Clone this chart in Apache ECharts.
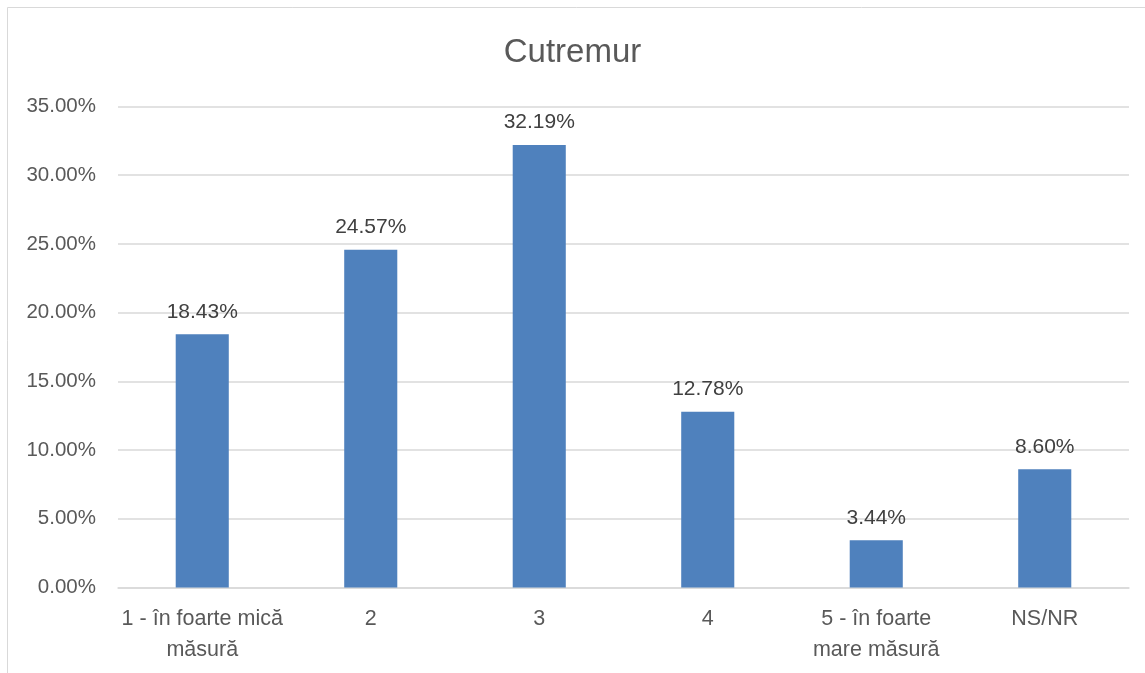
<!DOCTYPE html>
<html>
<head>
<meta charset="utf-8">
<script src="https://cdn.jsdelivr.net/npm/echarts@6/dist/echarts.min.js"></script>
<style>html,body{margin:0;padding:0;background:#fff;}#c{width:1145px;height:673px;}</style>
</head>
<body>
<div id="c"></div>
<script>
const titleText = 'Cutremur';
const categories = ['1 - în foarte mică\nmăsură', '2', '3', '4', '5 - în foarte\nmare măsură', 'NS/NR'];
const values = [18.43, 24.57, 32.19, 12.78, 3.44, 8.60];

const chart = echarts.init(document.getElementById('c'));
const FONT = '"Liberation Sans", Arial, sans-serif';
chart.setOption({
  animation: false,
  backgroundColor: '#fff',
  title: {
    text: titleText, left: 'center', top: 31,
    textStyle: { fontFamily: FONT, fontSize: 33, fontWeight: 'normal', color: '#595959' }
  },
  graphic: [{
    type: 'rect', silent: true,
    shape: { x: 7.5, y: 7.5, width: 1150, height: 700 },
    style: { fill: 'none', stroke: '#D9D9D9', lineWidth: 1 }
  }],
  grid: { left: 118, right: 16, top: 106.5, bottom: 85.5, containLabel: false },
  xAxis: {
    type: 'category', data: categories,
    axisLine: { lineStyle: { color: '#D9D9D9', width: 1.5 } },
    axisTick: { show: false },
    axisLabel: { color: '#595959', fontFamily: FONT, fontSize: 21.5, margin: 16, lineHeight: 31, interval: 0 }
  },
  yAxis: {
    type: 'value', min: 0, max: 35, interval: 5,
    axisLine: { show: false }, axisTick: { show: false },
    splitLine: { lineStyle: { color: '#D9D9D9', width: 1.5 } },
    axisLabel: { color: '#595959', fontFamily: FONT, fontSize: 20.5, margin: 22,
      formatter: v => v.toFixed(2) + '%' }
  },
  series: [{
    type: 'bar', data: values, barWidth: '31.5%',
    itemStyle: { color: '#4F81BD' },
    label: { show: true, position: 'top', distance: 12, color: '#404040', fontFamily: FONT, fontSize: 21,
      formatter: p => p.value.toFixed(2) + '%' }
  }]
});
</script>
</body>
</html>
